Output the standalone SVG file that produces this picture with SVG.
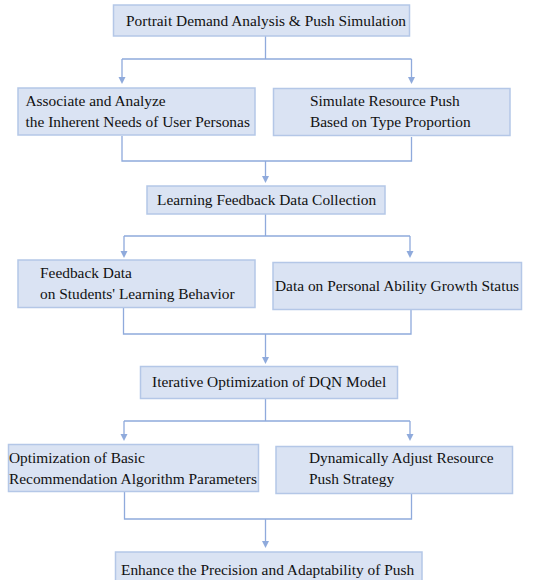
<svg xmlns="http://www.w3.org/2000/svg" width="533" height="580" viewBox="0 0 533 580">
<style>
.box{fill:#dae3f3;stroke:#b4c7e7;stroke-width:1.5}
.t{font-family:"Liberation Serif","Times New Roman",serif;font-size:15.4px;fill:#111111}
.c{fill:none;stroke:#8faadc;stroke-width:1.3}
.a{fill:#8faadc}
</style>
<rect width="533" height="580" fill="#ffffff"/>
<g id="connectors">
<path class="c" d="M265.5,36 V59 M122,59 H411.5 M122,59 V80 M411.5,59 V80"/>
<path class="a" d="M118.5,77 L125.5,77 L122,84 Z"/>
<path class="a" d="M408,77 L415,77 L411.5,84 Z"/>
<path class="c" d="M122,136 V161 H411.5 V137 M265.5,161 V179"/>
<path class="a" d="M262,176 L269,176 L265.5,183 Z"/>
<path class="c" d="M265.5,214 V236 M124,236 H410 M124,236 V254 M410,236 V254"/>
<path class="a" d="M120.5,251 L127.5,251 L124,258 Z"/>
<path class="a" d="M406.5,251 L413.5,251 L410,258 Z"/>
<path class="c" d="M123.5,308 V334 H411 V310 M265.5,334 V360"/>
<path class="a" d="M262,357 L269,357 L265.5,364 Z"/>
<path class="c" d="M265.5,398 V421 M124,421 H410 M124,421 V437 M410,421 V437"/>
<path class="a" d="M120.5,434 L127.5,434 L124,441 Z"/>
<path class="a" d="M406.5,434 L413.5,434 L410,441 Z"/>
<path class="c" d="M124.5,492 V519 H411.5 V494 M265.5,519 V544"/>
<path class="a" d="M262,541 L269,541 L265.5,548 Z"/>
</g>
<g id="n1">
<rect class="box" x="113.5" y="5" width="296" height="31"/>
<text class="t" x="126" y="26">Portrait Demand Analysis &amp; Push Simulation</text>
</g>
<g id="n2">
<rect class="box" x="18" y="88" width="237" height="47"/>
<text class="t" x="25.5" y="105.5">Associate and Analyze</text>
<text class="t" x="25.5" y="126.5">the Inherent Needs of User Personas</text>
</g>
<g id="n3">
<rect class="box" x="273.5" y="88.5" width="236.5" height="47"/>
<text class="t" x="310" y="106">Simulate Resource Push</text>
<text class="t" x="310" y="127">Based on Type Proportion</text>
</g>
<g id="n4">
<rect class="box" x="147" y="186" width="238" height="28"/>
<text class="t" x="157" y="205">Learning Feedback Data Collection</text>
</g>
<g id="n5">
<rect class="box" x="18" y="260" width="237" height="47.5"/>
<text class="t" x="40" y="278">Feedback Data</text>
<text class="t" x="40" y="299">on Students' Learning Behavior</text>
</g>
<g id="n6">
<rect class="box" x="273" y="262.5" width="248.5" height="47"/>
<text class="t" x="275" y="290.5">Data on Personal Ability Growth Status</text>
</g>
<g id="n7">
<rect class="box" x="140.5" y="366.5" width="257" height="32"/>
<text class="t" x="152" y="387">Iterative Optimization of DQN Model</text>
</g>
<g id="n8">
<rect class="box" x="8.5" y="444.5" width="250" height="47"/>
<text class="t" x="9" y="463">Optimization of Basic</text>
<text class="t" x="9" y="484">Recommendation Algorithm Parameters</text>
</g>
<g id="n9">
<rect class="box" x="276" y="446.5" width="236.5" height="47"/>
<text class="t" x="309" y="463">Dynamically Adjust Resource</text>
<text class="t" x="309" y="484">Push Strategy</text>
</g>
<g id="n10">
<rect class="box" x="115.5" y="552" width="306.5" height="40"/>
<text class="t" x="121" y="575">Enhance the Precision and Adaptability of Push</text>
</g>
</svg>
